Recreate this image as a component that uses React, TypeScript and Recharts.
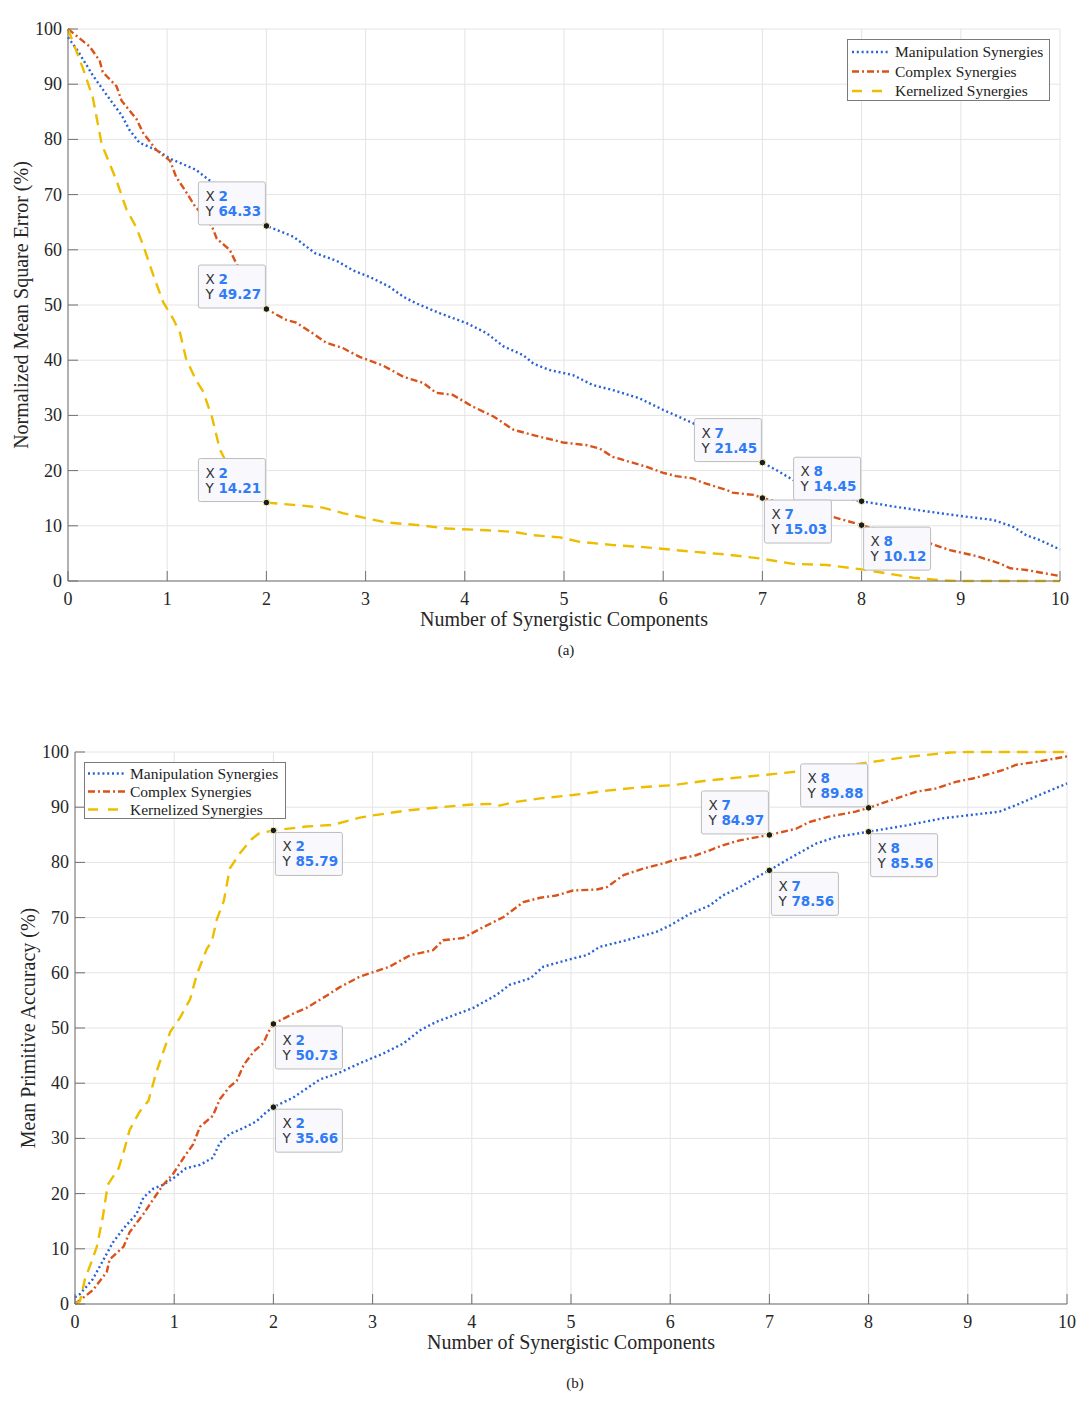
import React from 'react';
import { LineChart, Line, XAxis, YAxis, CartesianGrid, ReferenceDot } from 'recharts';

const xTicks = [0, 1, 2, 3, 4, 5, 6, 7, 8, 9, 10];
const yTicks = [0, 10, 20, 30, 40, 50, 60, 70, 80, 90, 100];
const seriesNames = ['Manipulation Synergies', 'Complex Synergies', 'Kernelized Synergies'];
const xLabel = 'Number of Synergistic Components';

// (a) normalized mean square error
const mseManipX = [0, 0.1, 0.25, 0.42, 0.54, 0.62, 0.72, 0.89, 1.03, 1.16, 1.29, 1.41, 1.55, 1.7, 1.85, 2, 2.27, 2.49, 2.71, 2.87, 3.04, 3.24, 3.38, 3.51, 3.75, 4.02, 4.22, 4.39, 4.59, 4.69, 4.86, 5.09, 5.29, 5.49, 5.76, 6.0, 6.15, 6.3, 6.5, 6.75, 7, 7.14, 7.31, 7.5, 7.7, 7.85, 8, 8.32, 8.66, 8.99, 9.33, 9.53, 9.66, 9.8, 10];
const mseManipY = [98.5, 96, 91.6, 87.3, 84.4, 81.7, 79.4, 78.1, 76.5, 75.5, 74.5, 72.8, 71, 68.8, 66.6, 64.33, 62.4, 59.4, 58.0, 56.3, 55.1, 53.3, 51.5, 50.3, 48.5, 46.7, 44.9, 42.5, 40.9, 39.4, 38.2, 37.3, 35.5, 34.6, 33.1, 31.0, 29.8, 28.6, 26.5, 24, 21.45, 20.1, 18.3, 16.8, 15.6, 15, 14.45, 13.5, 12.6, 11.8, 11.05, 9.8, 8.3, 7.4, 5.7];
const mseComplexX = [0, 0.22, 0.32, 0.35, 0.49, 0.54, 0.69, 0.76, 0.89, 1.03, 1.09, 1.19, 1.28, 1.37, 1.45, 1.5, 1.63, 1.7, 1.8, 1.9, 2, 2.2, 2.3, 2.44, 2.6, 2.77, 2.94, 3.18, 3.38, 3.58, 3.71, 3.88, 4.08, 4.29, 4.49, 4.72, 4.99, 5.23, 5.36, 5.49, 5.66, 5.83, 6.0, 6.13, 6.3, 6.4, 6.64, 6.7, 6.91, 7, 7.2, 7.4, 7.6, 7.69, 7.85, 8, 8.2, 8.4, 8.6, 8.69, 8.89, 9.16, 9.39, 9.5, 9.66, 10];
const mseComplexY = [100, 96.8, 94.2, 92.2, 89.6, 87.0, 83.7, 81.1, 78.1, 76.1, 73.2, 70.5, 67.9, 66, 64.3, 62.0, 60.0, 57.4, 54.5, 51.8, 49.27, 47.3, 46.8, 45.2, 43.2, 42.2, 40.6, 39.0, 37.0, 35.9, 34.1, 33.7, 31.6, 29.8, 27.4, 26.3, 25.1, 24.6, 24.0, 22.5, 21.6, 20.7, 19.6, 19.0, 18.6, 17.8, 16.5, 16.0, 15.6, 15.03, 14.1, 13.2, 12.2, 11.7, 10.9, 10.12, 9.1, 8.2, 7.3, 6.8, 5.6, 4.5, 3.2, 2.3, 2.0, 0.9];
const mseKernelX = [0, 0.15, 0.25, 0.34, 0.49, 0.59, 0.69, 0.76, 0.86, 0.96, 1.06, 1.13, 1.19, 1.29, 1.36, 1.45, 1.53, 1.65, 1.8, 2, 2.27, 2.57, 2.77, 3.0, 3.21, 3.55, 3.82, 4.22, 4.49, 4.69, 4.96, 5.16, 5.5, 5.76, 6.07, 6.3, 6.64, 6.97, 7.31, 7.65, 8, 8.25, 8.52, 8.82, 9, 10];
const mseKernelY = [100, 92.9, 87.6, 79.1, 72.5, 67.3, 64.0, 60.7, 55.4, 50.5, 47.5, 44.9, 40.3, 36.4, 34.4, 29.8, 23.9, 19.5, 16.2, 14.21, 13.8, 13.3, 12.3, 11.4, 10.6, 10.1, 9.5, 9.2, 8.9, 8.3, 7.9, 7.1, 6.5, 6.2, 5.7, 5.3, 4.8, 4.1, 3.1, 2.9, 2.1, 1.4, 0.6, 0.1, 0, 0];
const mseTipX = [2, 2, 2, 7, 8, 7, 8];
const mseTipY = [64.33, 49.27, 14.21, 21.45, 14.45, 15.03, 10.12];
const mseTipSide = ['ul', 'ul', 'ul', 'ul', 'ul', 'dr', 'dr'];

// (b) mean primitive accuracy
const accManipX = [0, 0.05, 0.18, 0.28, 0.38, 0.49, 0.62, 0.69, 0.79, 0.89, 1.0, 1.12, 1.26, 1.39, 1.46, 1.56, 1.69, 1.83, 1.93, 2, 2.2, 2.47, 2.64, 2.87, 3.11, 3.31, 3.48, 3.64, 4.01, 4.25, 4.38, 4.59, 4.72, 5.02, 5.16, 5.29, 5.56, 5.86, 6.0, 6.2, 6.4, 6.53, 6.7, 6.87, 7, 7.2, 7.47, 7.67, 8, 8.38, 8.75, 9.32, 9.49, 9.72, 10];
const accManipY = [1.2, 1.8, 4.5, 7.8, 11.1, 13.7, 16.3, 19.3, 20.9, 21.6, 22.9, 24.6, 25.2, 26.5, 29.2, 30.8, 31.8, 33.1, 34.8, 35.66, 37.4, 40.7, 41.7, 43.6, 45.4, 47.2, 49.6, 51.1, 53.6, 56.0, 57.8, 59.0, 61.1, 62.6, 63.2, 64.7, 65.9, 67.4, 68.6, 70.7, 72.2, 74.0, 75.5, 77.3, 78.56, 80.7, 83.4, 84.6, 85.56, 86.7, 88.0, 89.2, 90.4, 92.2, 94.3];
const accComplexX = [0, 0.18, 0.32, 0.35, 0.49, 0.55, 0.69, 0.79, 0.89, 0.99, 1.11, 1.19, 1.26, 1.39, 1.46, 1.56, 1.63, 1.7, 1.8, 1.9, 1.95, 2, 2.2, 2.33, 2.54, 2.67, 2.87, 3.17, 3.38, 3.61, 3.71, 3.91, 4.12, 4.32, 4.52, 4.69, 4.85, 5.02, 5.26, 5.36, 5.53, 5.73, 5.93, 6.03, 6.26, 6.4, 6.53, 6.7, 7, 7.27, 7.4, 7.6, 7.87, 8, 8.28, 8.48, 8.68, 8.88, 9.05, 9.35, 9.49, 9.69, 10];
const accComplexY = [0, 2.5, 5.8, 8.1, 10.4, 13.0, 16.3, 19.0, 21.6, 23.6, 26.9, 28.9, 32.1, 34.1, 37.1, 39.4, 40.4, 43.3, 45.7, 47.3, 49.3, 50.73, 52.6, 53.6, 55.9, 57.4, 59.3, 61.1, 63.2, 64.1, 65.9, 66.3, 68.3, 70.1, 72.8, 73.6, 74.0, 74.9, 75.1, 75.5, 77.7, 78.9, 79.8, 80.4, 81.3, 82.2, 83.1, 84.0, 84.97, 86.1, 87.3, 88.3, 89.2, 89.88, 91.6, 92.8, 93.4, 94.6, 95.2, 96.7, 97.7, 98.2, 99.2];
const accKernelX = [0, 0.05, 0.1, 0.17, 0.22, 0.28, 0.33, 0.44, 0.49, 0.55, 0.65, 0.74, 0.82, 0.96, 1.06, 1.16, 1.23, 1.33, 1.38, 1.43, 1.5, 1.56, 1.66, 1.78, 1.85, 2, 2.33, 2.6, 2.87, 3.0, 3.34, 3.68, 4.01, 4.18, 4.28, 4.42, 4.69, 5.02, 5.36, 5.69, 6.03, 6.36, 6.7, 7.2, 7.54, 8, 8.38, 8.82, 9, 10];
const accKernelY = [0, 0.5, 4.5, 7.8, 10.4, 15.7, 21.6, 24.6, 27.5, 31.5, 34.8, 36.8, 42.0, 49.3, 51.9, 55.2, 59.8, 64.4, 65.7, 69.7, 73.0, 78.9, 81.6, 84.2, 85.2, 85.79, 86.5, 86.8, 88.1, 88.5, 89.4, 90.0, 90.5, 90.6, 90.3, 90.9, 91.6, 92.2, 93.0, 93.6, 94.0, 94.8, 95.4, 96.3, 97.0, 98.1, 99.1, 99.9, 100, 100];
const accTipX = [2, 2, 2, 7, 7, 8, 8];
const accTipY = [85.79, 50.73, 35.66, 84.97, 78.56, 89.88, 85.56];
const accTipSide = ['dr', 'dr', 'dr', 'ul', 'dr', 'ul', 'dr'];

const COLORS = ['#2762d6', '#d9531b', '#edbd00'];
const DASHES = ['2 2.8', '7 3 2 3', '11 7'];
const SERIF = '"Liberation Serif", "Times New Roman", serif';
const SANS = '"DejaVu Sans", Verdana, sans-serif';

const zip = (xs: number[], ys: number[]) => xs.map((x, i) => ({ x, y: ys[i] }));

const TIP_W = 67;
const TIP_H = 43;

function tipShape(value: number, xv: number, side: string) {
  return (p: any) => {
    const { cx, cy } = p;
    const bx = side === 'ul' ? cx - TIP_W - 1 : cx + 2;
    const by = side === 'ul' ? cy - TIP_H - 1 : cy + 2;
    return (
      <g>
        <rect x={bx} y={by} width={TIP_W} height={TIP_H} rx={2} fill="#f8f8fd" stroke="#bcbcbc" strokeWidth={1} />
        <text x={bx + 7} y={by + 19} fontFamily={SANS} fontSize={13.5} fill="#333">X</text>
        <text x={bx + 20} y={by + 19} fontFamily={SANS} fontSize={13.5} fontWeight="bold" fill="#2f7cf6">{xv}</text>
        <text x={bx + 7} y={by + 34} fontFamily={SANS} fontSize={13.5} fill="#333">Y</text>
        <text x={bx + 20} y={by + 34} fontFamily={SANS} fontSize={13.5} fontWeight="bold" fill="#2f7cf6">{value.toFixed(2)}</text>
        <circle cx={cx} cy={cy} r={3.3} fill="#1c1c1c" stroke="#fbfbc8" strokeWidth={1} />
      </g>
    );
  };
}

// serif tick text, drawn from the axis' own tick positions
const XTick = (p: any) => (
  <text x={p.x} y={p.y + 13} textAnchor="middle" fontFamily={SERIF} fontSize={18} fill="#262626">{p.payload.value}</text>
);
const YTick = (p: any) => (
  <text x={p.x} y={p.y + 6} textAnchor="end" fontFamily={SERIF} fontSize={18} fill="#262626">{p.payload.value}</text>
);

function Legend({ left, top, width, height, rowY, lineX, textX }: any) {
  return (
    <svg style={{ position: 'absolute', left, top }} width={width} height={height}>
      <rect x={0.5} y={0.5} width={width - 1} height={height - 1} fill="#fff" stroke="#7a7a7a" />
      {seriesNames.map((n, i) => (
        <g key={n}>
          <line x1={lineX[0]} x2={lineX[1]} y1={rowY[i]} y2={rowY[i]} stroke={COLORS[i]} strokeWidth={2.4} strokeDasharray={i === 2 ? '10 10' : DASHES[i]} />
          <text x={textX} y={rowY[i] + 5} fontFamily={SERIF} fontSize={15.5} fill="#222">{n}</text>
        </g>
      ))}
    </svg>
  );
}

function Panel(props: any) {
  const { top, height, margin, yWidth, xHeight, yLabel, yLabelX, xLabelY, series, tipX, tipY, tipSide } = props;
  return (
    <div style={{ position: 'absolute', left: 0, top }}>
      <LineChart width={1081} height={height} margin={margin} style={{ fontFamily: SERIF }}>
        <CartesianGrid stroke="#e4e4e4" strokeWidth={1} />
        <XAxis
          xAxisId="top" orientation="top" type="number" domain={[0, 10]} ticks={xTicks}
          height={0} tick={false} tickSize={-10} stroke="#707070" interval={0}
        />
        <YAxis
          yAxisId="right" orientation="right" type="number" domain={[0, 100]} ticks={yTicks}
          width={0} tick={false} tickSize={-10} stroke="#707070" interval={0}
        />
        <XAxis
          dataKey="x" type="number" domain={[0, 10]} ticks={xTicks} interval={0}
          height={xHeight} tickSize={-10} tickMargin={21} stroke="#707070"
          tick={<XTick />}
          label={{
            content: () => (
              <text x={margin.left + yWidth + (1081 - margin.left - yWidth - margin.right) / 2} y={xLabelY}
                textAnchor="middle" fontFamily={SERIF} fontSize={20} fill="#262626">{xLabel}</text>
            ),
          }}
        />
        <YAxis
          type="number" domain={[0, 100]} ticks={yTicks} interval={0}
          width={yWidth} tickSize={-10} tickMargin={16} stroke="#707070"
          tick={<YTick />}
          label={{
            content: () => {
              const cy = margin.top + (height - margin.top - xHeight) / 2;
              return (
                <text x={yLabelX} y={cy} transform={`rotate(-90, ${yLabelX}, ${cy})`}
                  textAnchor="middle" fontFamily={SERIF} fontSize={20} fill="#262626">{yLabel}</text>
              );
            },
          }}
        />
        {series.map((d: any[], i: number) => (
          <Line
            key={seriesNames[i]} data={d} dataKey="y" name={seriesNames[i]} type="linear"
            stroke={COLORS[i]} strokeWidth={2.4} strokeDasharray={DASHES[i]}
            dot={false} activeDot={false} isAnimationActive={false}
          />
        ))}
        {tipX.map((xv: number, i: number) => (
          <ReferenceDot key={i} x={xv} y={tipY[i]} r={3} ifOverflow="visible" shape={tipShape(tipY[i], xv, tipSide[i])} />
        ))}
      </LineChart>
    </div>
  );
}

export default function App() {
  const mseSeries = [zip(mseManipX, mseManipY), zip(mseComplexX, mseComplexY), zip(mseKernelX, mseKernelY)];
  const accSeries = [zip(accManipX, accManipY), zip(accComplexX, accComplexY), zip(accKernelX, accKernelY)];
  return (
    <div style={{ position: 'absolute', left: 0, top: 0, width: 1081, height: 1405, background: '#fff' }}>
      <Panel
        top={0} height={640} margin={{ top: 29, right: 21, bottom: 0, left: 0 }} yWidth={68} xHeight={59}
        yLabel="Normalized Mean Square Error (%)" yLabelX={28} xLabelY={626}
        series={mseSeries} tipX={mseTipX} tipY={mseTipY} tipSide={mseTipSide}
      />
      <Panel
        top={700} height={660} margin={{ top: 52, right: 14, bottom: 0, left: 0 }} yWidth={75} xHeight={56}
        yLabel="Mean Primitive Accuracy (%)" yLabelX={35} xLabelY={649}
        series={accSeries} tipX={accTipX} tipY={accTipY} tipSide={accTipSide}
      />
      <Legend left={847} top={39} width={203} height={62} rowY={[13, 32.5, 52]} lineX={[5, 43]} textX={48} />
      <Legend left={84} top={762} width={202} height={57} rowY={[11.5, 29.5, 47.5]} lineX={[4, 41]} textX={46} />
      <div style={{ position: 'absolute', left: 516, top: 641, width: 100, textAlign: 'center', fontFamily: SERIF, fontSize: 15, lineHeight: '18px', color: '#222' }}>(a)</div>
      <div style={{ position: 'absolute', left: 525, top: 1374, width: 100, textAlign: 'center', fontFamily: SERIF, fontSize: 15, lineHeight: '18px', color: '#222' }}>(b)</div>
    </div>
  );
}
